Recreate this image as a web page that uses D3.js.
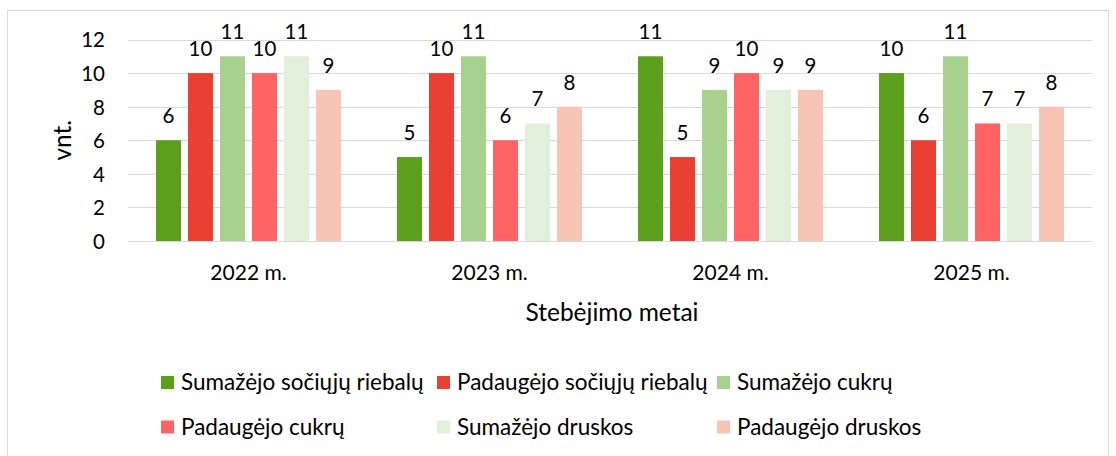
<!DOCTYPE html>
<html><head><meta charset="utf-8">
<script src="https://cdn.jsdelivr.net/npm/d3@7"></script>
<style>body{margin:0;background:#fff;} text{font-family:Lato,"Open Sans",sans-serif;fill:#000;}</style>
</head><body>
<svg id="c" width="1116" height="456"></svg>
<script>
const categories = ["2022 m.", "2023 m.", "2024 m.", "2025 m."];
const seriesNames = ["Sumažėjo sočiųjų riebalų", "Padaugėjo sočiųjų riebalų", "Sumažėjo cukrų", "Padaugėjo cukrų", "Sumažėjo druskos", "Padaugėjo druskos"];
const sumazejoRiebalu = [6, 5, 11, 10];
const padaugejoRiebalu = [10, 10, 5, 6];
const sumazejoCukru = [11, 11, 9, 11];
const padaugejoCukru = [10, 6, 10, 7];
const sumazejoDruskos = [11, 7, 9, 7];
const padaugejoDruskos = [9, 8, 9, 8];
const seriesValues = [sumazejoRiebalu, padaugejoRiebalu, sumazejoCukru, padaugejoCukru, sumazejoDruskos, padaugejoDruskos];
const colors = ["#5B9F1D", "#EA4033", "#A9D18E", "#FF6363", "#E2EFDA", "#F8C4B5"];
const yTicks = [0, 2, 4, 6, 8, 10, 12];

const svg = d3.select("#c");
svg.append("rect").attr("x", 7.5).attr("y", 10.5).attr("width", 1101).attr("height", 450)
  .attr("fill", "#fff").attr("stroke", "#d9d9d9").attr("stroke-width", 1);

const L = 128, R = 1092, T = 39.5, B = 241;
const x0 = d3.scaleBand().domain(categories).range([L, R]).padding(0);
const x1 = d3.scaleBand().domain(d3.range(6)).range([28, x0.bandwidth() - 28]).paddingInner(0.22);
const y = d3.scaleLinear().domain([0, 12]).range([B, T]);

// grid
svg.append("g").selectAll("line").data(yTicks).join("line")
  .attr("x1", L).attr("x2", R).attr("y1", d => Math.round(y(d)) + 0.5).attr("y2", d => Math.round(y(d)) + 0.5)
  .attr("stroke", "#d9d9d9").attr("stroke-width", 1);

// y axis labels
const yAxis = d3.axisLeft(y).tickValues(yTicks).tickSize(0).tickPadding(0);
const ga = svg.append("g").attr("transform", `translate(${L - 23},0)`).call(yAxis);
ga.select(".domain").remove();
ga.selectAll("text").style("font-size", "20.5px").attr("font-family", null).attr("dy", "0.36em");

// x axis labels
const xAxis = d3.axisBottom(x0).tickSize(0).tickPadding(0);
const gx = svg.append("g").attr("transform", `translate(0,${B + 24})`).call(xAxis);
gx.select(".domain").remove();
gx.selectAll("text").style("font-size", "21px").attr("font-family", null).attr("dy", "0.71em");

// bars
const groups = svg.append("g").selectAll("g").data(categories).join("g")
  .attr("transform", d => `translate(${x0(d)},0)`);
groups.each(function(cat, ci) {
  const g = d3.select(this);
  seriesValues.forEach((vals, si) => {
    const v = vals[ci];
    g.append("rect").attr("x", x1(si)).attr("width", x1.bandwidth())
      .attr("y", y(v)).attr("height", y(0) - y(v)).attr("fill", colors[si]);
    g.append("text").attr("x", x1(si) + x1.bandwidth() / 2).attr("y", y(v) - 17)
      .attr("text-anchor", "middle").style("font-size", "20.5px").text(v);
  });
});

// axis titles
svg.append("text").attr("transform", `translate(71,${(T + B) / 2}) rotate(-90)`)
  .attr("text-anchor", "middle").style("font-size", "24.5px").text("vnt.");
svg.append("text").attr("x", (L + R) / 2 + 2).attr("y", 321).attr("text-anchor", "middle")
  .style("font-size", "24.5px").text("Stebėjimo metai");

// legend
const legendPos = [[161, 382.5], [437, 382.5], [717, 382.5], [161, 427], [437, 427], [717, 427]];
seriesNames.forEach((name, i) => {
  const [lx, ly] = legendPos[i];
  svg.append("rect").attr("x", lx).attr("y", ly - 6.5).attr("width", 13).attr("height", 13).attr("fill", colors[i]);
  svg.append("text").attr("x", lx + 20).attr("y", ly).attr("dy", "0.35em").style("font-size", "22.5px").text(name);
});
</script>
</body></html>
